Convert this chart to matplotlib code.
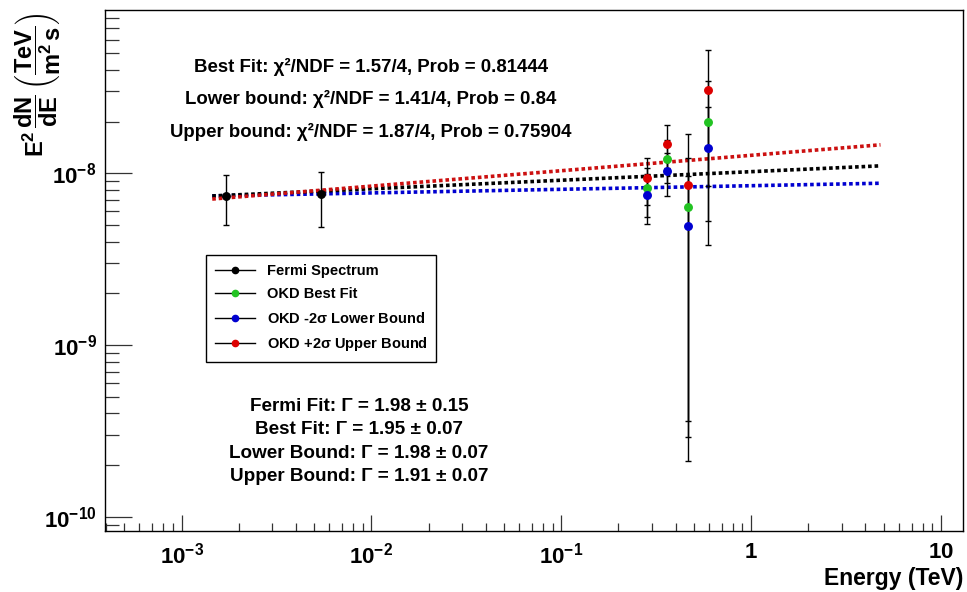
import math
import matplotlib
matplotlib.use("Agg")
import matplotlib.pyplot as plt
from matplotlib.lines import Line2D
from matplotlib.ticker import FixedLocator, FuncFormatter, NullFormatter

plt.rcParams['font.family'] = ['Liberation Sans', 'DejaVu Sans']
plt.rcParams['font.weight'] = 'bold'
plt.rcParams['mathtext.fontset'] = 'custom'
plt.rcParams['mathtext.rm'] = 'Liberation Sans:bold'
plt.rcParams['mathtext.bf'] = 'Liberation Sans:bold'
plt.rcParams['mathtext.it'] = 'Liberation Sans:bold'
plt.rcParams['mathtext.default'] = 'rm'

# ---------------- data ----------------
fermi_E = [1.71e-3, 5.43e-3]
fermi_F = [7.38e-9, 7.55e-9]
fermi_err = [2.36e-9, 2.66e-9]

okd_E = [0.282, 0.360, 0.463, 0.592]
best_F = [8.18e-9, 1.216e-8, 6.34e-9, 1.99e-8]
best_err = [2.6e-9, 3.4e-9, 5.98e-9, 1.46e-8]
lower_F = [7.47e-9, 1.031e-8, 4.94e-9, 1.40e-8]
lower_err = [2.4e-9, 2.9e-9, 4.73e-9, 1.02e-8]
upper_F = [9.43e-9, 1.487e-8, 8.59e-9, 3.04e-8]
upper_err = [2.9e-9, 4.2e-9, 8.3e-9, 2.2e-8]

# power-law fit lines (straight in log-log): endpoints
fit_E = [1.45e-3, 4.8]
fit_best = [7.38e-9, 1.105e-8]
fit_lower = [7.38e-9, 8.75e-9]
fit_upper = [7.08e-9, 1.465e-8]

x_major = [1e-3, 1e-2, 1e-1, 1, 10]
y_major = [1e-10, 1e-9, 1e-8]

legend_labels = ['Fermi Spectrum', 'OKD Best Fit', r'OKD -2$\sigma$ Lower Bound', r'OKD +2$\sigma$ Upper Bound']
chi_texts = ['Best Fit: χ²/NDF = 1.57/4, Prob = 0.81444',
             'Lower bound: χ²/NDF = 1.41/4, Prob = 0.84',
             'Upper bound: χ²/NDF = 1.87/4, Prob = 0.75904']
gamma_texts = ['Fermi Fit: Γ = 1.98 ± 0.15',
               'Best Fit: Γ = 1.95 ± 0.07',
               'Lower Bound: Γ = 1.98 ± 0.07',
               'Upper Bound: Γ = 1.91 ± 0.07']

RED = '#dd0000'
GREEN = '#22c322'
BLUE = '#0000d0'

W, H = 967, 592
fig = plt.figure(figsize=(W / 100, H / 100), dpi=100)
ax = fig.add_axes([105 / W, 1 - 531 / H, 858 / W, 521 / H])
ax.set_xscale('log')
ax.set_yscale('log')
xlim = (3.95e-4, 13.06)
ylim = (8.25e-11, 8.935e-8)
ax.set_xlim(*xlim)
ax.set_ylim(*ylim)

# fit lines
dot = (0, (1.0, 0.8))
ax.plot(fit_E, fit_lower, color=BLUE, lw=2.6, linestyle=dot, zorder=2)
ax.plot(fit_E, fit_best, color='black', lw=2.6, linestyle=dot, zorder=2)
ax.plot(fit_E, fit_upper, color='#cc1010', lw=2.6, linestyle=dot, zorder=2)

ekw = dict(fmt='none', ecolor='black', elinewidth=1, capsize=2.4, capthick=1, zorder=3)
ax.errorbar(fermi_E, fermi_F, yerr=fermi_err, **ekw)
ax.errorbar(okd_E, best_F, yerr=best_err, **ekw)
ax.errorbar(okd_E, lower_F, yerr=lower_err, **ekw)
ax.errorbar(okd_E, upper_F, yerr=upper_err, **ekw)

mkw = dict(linestyle='none', marker='o', markersize=5.4, zorder=4)
ax.plot(fermi_E, fermi_F, color='black', **mkw)
ax.plot(okd_E, best_F, color=GREEN, **mkw)
ax.plot(okd_E, lower_F, color=BLUE, **mkw)
ax.plot(okd_E, upper_F, color=RED, **mkw)

for s in ax.spines.values():
    s.set_linewidth(1.0)
    s.set_color('black')


def fmt(v, pos):
    if abs(v - 1) < 1e-9:
        return r'$1$'
    if abs(v - 10) < 1e-9:
        return r'$10$'
    return r'$10^{%d}$' % round(math.log10(v))


def minors(lo, hi):
    out = []
    for d in range(math.floor(math.log10(lo)), math.ceil(math.log10(hi)) + 1):
        for m in range(2, 10):
            v = m * 10.0 ** d
            if lo <= v <= hi:
                out.append(v)
    return out


ax.xaxis.set_major_locator(FixedLocator(x_major))
ax.yaxis.set_major_locator(FixedLocator(y_major))
ax.xaxis.set_minor_locator(FixedLocator(minors(*xlim)))
ax.yaxis.set_minor_locator(FixedLocator(minors(*ylim)))
ax.xaxis.set_major_formatter(FuncFormatter(fmt))
ax.yaxis.set_major_formatter(FuncFormatter(fmt))
ax.xaxis.set_minor_formatter(NullFormatter())
ax.yaxis.set_minor_formatter(NullFormatter())
ax.tick_params(axis='x', which='major', direction='in', length=16 * 0.72, width=0.9, labelsize=16, pad=8, color='#333333')
ax.tick_params(axis='x', which='minor', direction='in', length=8 * 0.72, width=0.9, color='#333333')
ax.tick_params(axis='y', which='major', direction='in', length=27 * 0.72, width=0.9, labelsize=16, pad=6, color='#333333')
ax.tick_params(axis='y', which='minor', direction='in', length=14 * 0.72, width=0.9, color='#333333')

# axis titles
fig.text(963 / W, 1 - 585 / H, 'Energy (TeV)', ha='right', va='baseline', fontsize=16.5, fontweight='bold')
fig.text(38 / W, 1 - 85 / H, r'$E^{2}\,\dfrac{dN}{dE}\,\left(\dfrac{TeV}{m^{2}\,s}\right)$',
         rotation=90, ha='center', va='center', fontsize=17)

# legend
handles = [Line2D([0], [0], color='black', lw=1, marker='o', ms=4.5, mfc=c, mec=c)
           for c in ['black', GREEN, BLUE, RED]]
leg = ax.legend(handles, legend_labels, loc='upper left',
                bbox_to_anchor=((206 - 105) / 858, (531 - 255) / 521),
                borderaxespad=0, fontsize=10.5, frameon=True, fancybox=False,
                edgecolor='black', framealpha=1, borderpad=0.6, labelspacing=0.65,
                handlelength=2.75, handletextpad=0.8)
leg.get_frame().set_linewidth(1.0)
for t in leg.get_texts():
    t.set_fontweight('bold')

# text annotations
for txt, yb in zip(chi_texts, [72, 104, 137]):
    fig.text(371 / W, 1 - yb / H, txt, ha='center', va='baseline', fontsize=13.4, fontweight='bold')
for txt, yb in zip(gamma_texts, [411, 434, 458, 481]):
    fig.text(359 / W, 1 - yb / H, txt, ha='center', va='baseline', fontsize=13.6, fontweight='bold')

fig.savefig('out.png', dpi=100)
